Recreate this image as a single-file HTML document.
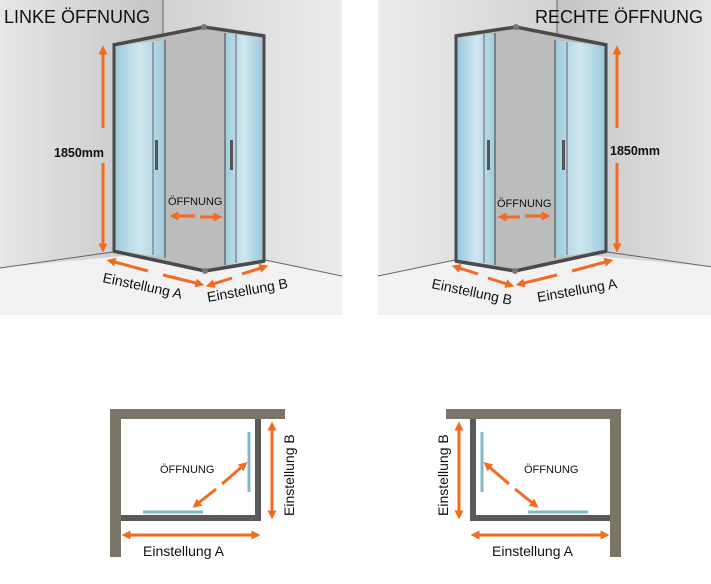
<!DOCTYPE html>
<html><head><meta charset="utf-8"><style>
html,body{margin:0;padding:0;background:#fff;}
svg{display:block;font-family:"Liberation Sans",sans-serif;}
</style></head><body>
<svg width="711" height="584" viewBox="0 0 711 584" xmlns="http://www.w3.org/2000/svg">
<defs>
<linearGradient id="lw" x1="0" x2="1"><stop offset="0" stop-color="#e6e6e6"/><stop offset="1" stop-color="#c4c4c4"/></linearGradient>
<linearGradient id="rw" x1="0" x2="1"><stop offset="0" stop-color="#d2d2d2"/><stop offset="1" stop-color="#ececec"/></linearGradient>
<linearGradient id="gl" x1="0" x2="1"><stop offset="0" stop-color="#9dcbdc"/><stop offset="0.5" stop-color="#d0e7ef"/><stop offset="1" stop-color="#9dcbdc"/></linearGradient>
<marker id="ah" viewBox="0 0 10 10" refX="5" refY="5" markerWidth="3" markerHeight="3" orient="auto-start-reverse"><path d="M0,0L10,5L0,10z" fill="#f26b21"/></marker>
<clipPath id="cl"><rect x="0" y="0" width="342" height="315"/></clipPath>
<g id="shower">
  <rect x="0" y="0" width="342" height="315" fill="#f2f2f2"/>
  <polygon points="0,0 163,0 163,252 0,268" fill="url(#lw)"/>
  <polygon points="163,0 342,0 342,276 265,260 163,252" fill="url(#rw)"/>
  <line x1="163" y1="0" x2="163" y2="40" stroke="#666" stroke-width="1"/>
  <line x1="0" y1="268" x2="113" y2="252" stroke="#666" stroke-width="1"/>
  <line x1="265" y1="260" x2="342" y2="276" stroke="#666" stroke-width="1"/>
  <polygon points="115,46 204,28 264,37 264,260 205,270 115,250" fill="#bcbcbc"/>
  <polygon points="115,46 165,40 165,258 115,250" fill="url(#gl)"/>
  <polygon points="225,33 262,38 262,260 225,265" fill="url(#gl)"/>
  <line x1="153" y1="42" x2="153" y2="255" stroke="#778" stroke-width="1.2"/>
  <line x1="165" y1="40" x2="165" y2="258" stroke="#555" stroke-width="1.2"/>
  <line x1="225" y1="33" x2="225" y2="265" stroke="#555" stroke-width="1.2"/>
  <line x1="236" y1="34" x2="236" y2="263" stroke="#778" stroke-width="1.2"/>
  <rect x="155" y="140" width="3" height="30" fill="#555"/>
  <rect x="230" y="140" width="3" height="30" fill="#555"/>
  <polyline points="113,45 204,27 265,36" fill="none" stroke="#4a4a4a" stroke-width="3.5"/>
  <polyline points="113,251 205,271 265,261" fill="none" stroke="#4a4a4a" stroke-width="3.5"/>
  <line x1="114" y1="43" x2="114" y2="252" stroke="#4a4a4a" stroke-width="3"/>
  <line x1="264" y1="35" x2="264" y2="262" stroke="#4a4a4a" stroke-width="3"/>
  <circle cx="204" cy="27" r="3" fill="#777"/><circle cx="205" cy="271" r="3" fill="#777"/>
  <g stroke="#f26b21" stroke-width="3" fill="none">
   <line x1="103" y1="50" x2="103" y2="128" marker-start="url(#ah)"/>
   <line x1="103" y1="163" x2="103" y2="248" marker-end="url(#ah)"/>
   <line x1="195" y1="216" x2="174" y2="216" marker-end="url(#ah)"/>
   <line x1="200" y1="217" x2="218" y2="217" marker-end="url(#ah)"/>
   <line x1="148" y1="271" x2="111" y2="261" marker-end="url(#ah)"/>
   <line x1="163" y1="275" x2="200" y2="284" marker-end="url(#ah)"/>
   <line x1="232" y1="278" x2="210" y2="285" marker-end="url(#ah)"/>
   <line x1="242" y1="274" x2="264" y2="267" marker-end="url(#ah)"/>
  </g>
</g>
<g id="plan">
  <rect x="110" y="409" width="175" height="10" fill="#7a7566"/>
  <rect x="110" y="409" width="11" height="148" fill="#7a7566"/>
  <rect x="255" y="419" width="6" height="102" fill="#5a5a5a"/>
  <rect x="121" y="515" width="140" height="6" fill="#5a5a5a"/>
  <line x1="143" y1="512" x2="203" y2="512" stroke="#7fb8c8" stroke-width="3"/>
  <line x1="249" y1="432" x2="249" y2="492" stroke="#7fb8c8" stroke-width="3"/>
  <g stroke="#f26b21" stroke-width="3" fill="none">
   <line x1="272" y1="426" x2="272" y2="515" marker-start="url(#ah)" marker-end="url(#ah)"/>
   <line x1="126" y1="535" x2="256" y2="535" marker-start="url(#ah)" marker-end="url(#ah)"/>
   <line x1="222" y1="484" x2="244" y2="465" marker-end="url(#ah)"/>
   <line x1="216" y1="489" x2="196" y2="505" marker-end="url(#ah)"/>
  </g>
</g>
</defs>
<rect width="711" height="584" fill="#fff"/>
<g clip-path="url(#cl)"><use href="#shower"/></g>
<g transform="translate(720,0) scale(-1,1)"><g clip-path="url(#cl)"><use href="#shower"/></g></g>
<rect x="342" y="0" width="36" height="315" fill="#fff"/>
<use href="#plan"/>
<g transform="translate(731,0) scale(-1,1)"><use href="#plan"/></g>

<text x="4" y="23" font-size="18" fill="#111">LINKE ÖFFNUNG</text>
<text x="535" y="23" font-size="18" fill="#111">RECHTE ÖFFNUNG</text>
<text x="54" y="157" font-size="12.5" font-weight="bold" fill="#111">1850mm</text>
<text x="610" y="155" font-size="12.5" font-weight="bold" fill="#111">1850mm</text>
<text x="168" y="205" font-size="11" fill="#111">ÖFFNUNG</text>
<text x="497" y="207" font-size="11" fill="#111">ÖFFNUNG</text>
<text transform="translate(102,282) rotate(12)" font-size="14" fill="#111">Einstellung A</text>
<text transform="translate(208,302) rotate(-10)" font-size="14" fill="#111">Einstellung B</text>
<text transform="translate(431,288) rotate(12)" font-size="14" fill="#111">Einstellung B</text>
<text transform="translate(538,302) rotate(-10)" font-size="14" fill="#111">Einstellung A</text>
<text x="160" y="473" font-size="11" fill="#111">ÖFFNUNG</text>
<text x="524" y="473" font-size="11" fill="#111">ÖFFNUNG</text>
<text x="143" y="556" font-size="14" fill="#111">Einstellung A</text>
<text x="492" y="556" font-size="14" fill="#111">Einstellung A</text>
<text transform="translate(294,516) rotate(-90)" font-size="14" fill="#111">Einstellung B</text>
<text transform="translate(448,516) rotate(-90)" font-size="14" fill="#111">Einstellung B</text>
</svg>
</body></html>
